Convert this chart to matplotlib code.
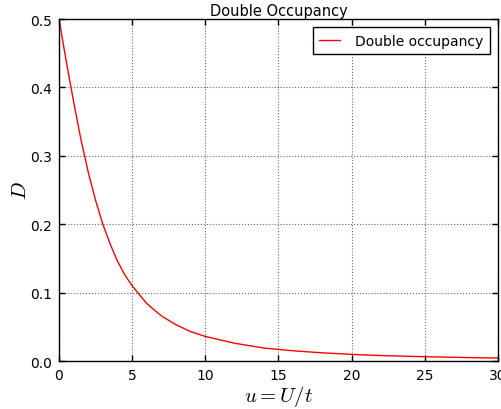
import numpy as np
import matplotlib
matplotlib.use('Agg')
import matplotlib.pyplot as plt

# values
u = [0, 0.5, 1, 1.5, 2, 2.5, 3, 3.5, 4, 4.5, 5, 6, 7, 8, 9, 10,
     12, 14, 16, 18, 20, 22, 25, 28, 30]
D = [0.500, 0.438, 0.379, 0.324, 0.276, 0.235, 0.200, 0.171, 0.146, 0.126,
     0.110, 0.084, 0.066, 0.053, 0.043, 0.036, 0.026, 0.019, 0.015, 0.012,
     0.0097, 0.0080, 0.0063, 0.0050, 0.0044]

plt.rcParams['mathtext.fontset'] = 'cm'

fig = plt.figure(figsize=(5.02, 4.10), dpi=100)
fig.subplots_adjust(left=0.1175, right=0.992, top=0.951, bottom=0.117)
ax = fig.add_subplot(111)

ax.plot(u, D, color='red', linewidth=1, label='Double occupancy')

ax.set_xlim(0, 30)
ax.set_ylim(0, 0.5)
ax.set_xticks([0, 5, 10, 15, 20, 25, 30])
ax.set_yticks([0.0, 0.1, 0.2, 0.3, 0.4, 0.5])

ax.grid(True, color='black', linestyle=':', linewidth=0.8, alpha=0.6)
ax.tick_params(axis='both', direction='in', top=True, right=True,
               length=4, width=1, labelsize=10, pad=5)
for s in ax.spines.values():
    s.set_linewidth(1)

ax.set_title('Double Occupancy', fontsize=10.5, pad=3)
ax.set_xlabel(r'$u = U/t$', fontsize=15, labelpad=1)
ax.set_ylabel(r'$D$', fontsize=15, labelpad=0)

leg = ax.legend(loc='upper right', fontsize=10, fancybox=False,
                edgecolor='black', framealpha=1, handlelength=1.5,
                handletextpad=1.1, borderaxespad=0.6, borderpad=0.45)
leg.get_frame().set_linewidth(1)

fig.savefig('out.png', dpi=100)
